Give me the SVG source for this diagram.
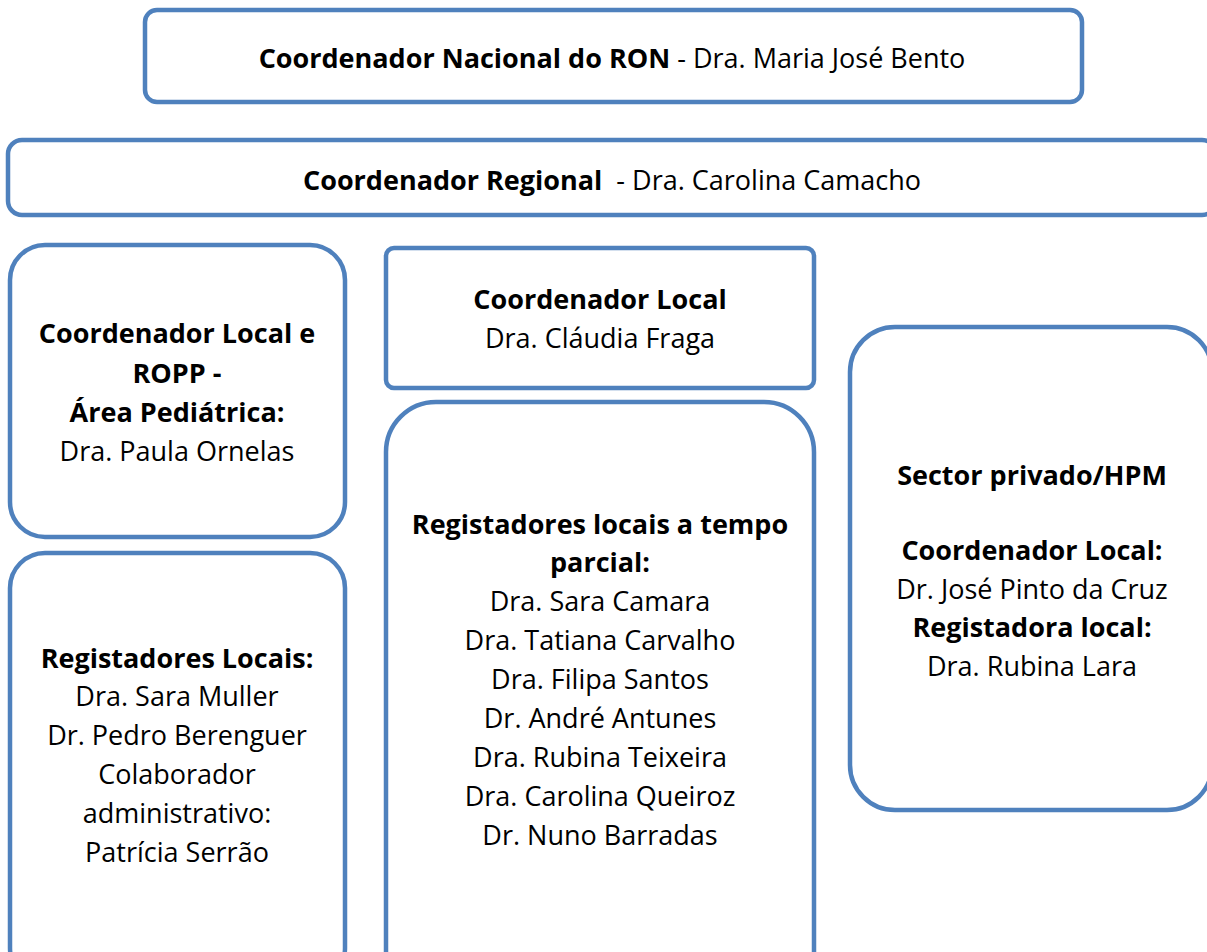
<svg xmlns="http://www.w3.org/2000/svg" width="1207" height="952" viewBox="0 0 1207 952">
<style>
.box{fill:#fff;stroke:#4f81bd;stroke-width:4.5}
text{font-family:"Open Sans","Liberation Sans",sans-serif;font-size:27px;fill:#000;text-anchor:middle}
.b{font-weight:bold}
</style>
<rect width="1207" height="952" fill="#fff"/>
<g id="national">
<rect class="box" x="145" y="10" width="937" height="92" rx="12"/>
<text x="612" y="68"><tspan class="b">Coordenador Nacional do RON</tspan> - Dra. Maria José Bento</text>
</g>
<g id="regional">
<rect class="box" x="8" y="140" width="1208" height="75" rx="14"/>
<text x="612" y="190" xml:space="preserve"><tspan class="b">Coordenador Regional</tspan>  - Dra. Carolina Camacho</text>
</g>
<g id="ropp">
<rect class="box" x="10" y="245" width="335" height="292" rx="35"/>
<text x="177" y="343" class="b">Coordenador Local e</text>
<text x="177" y="383" class="b">ROPP -</text>
<text x="177" y="422" class="b">Área Pediátrica:</text>
<text x="177" y="461">Dra. Paula Ornelas</text>
</g>
<g id="reg-locais">
<rect class="box" x="10" y="553" width="335" height="430" rx="35"/>
<text x="177" y="668" class="b">Registadores Locais:</text>
<text x="177" y="706">Dra. Sara Muller</text>
<text x="177" y="745">Dr. Pedro Berenguer</text>
<text x="177" y="784">Colaborador</text>
<text x="177" y="823">administrativo:</text>
<text x="177" y="862">Patrícia Serrão</text>
</g>
<g id="coord-local">
<rect class="box" x="386" y="248" width="428" height="140" rx="8"/>
<text x="600" y="309" class="b">Coordenador Local</text>
<text x="600" y="348">Dra. Cláudia Fraga</text>
</g>
<g id="parcial">
<rect class="box" x="386" y="402" width="428" height="600" rx="50"/>
<text x="600" y="534" class="b">Registadores locais a tempo</text>
<text x="600" y="572" class="b">parcial:</text>
<text x="600" y="611">Dra. Sara Camara</text>
<text x="600" y="650">Dra. Tatiana Carvalho</text>
<text x="600" y="689">Dra. Filipa Santos</text>
<text x="600" y="728">Dr. André Antunes</text>
<text x="600" y="767">Dra. Rubina Teixeira</text>
<text x="600" y="806">Dra. Carolina Queiroz</text>
<text x="600" y="845">Dr. Nuno Barradas</text>
</g>
<g id="privado">
<rect class="box" x="850" y="327" width="362" height="483" rx="45"/>
<text x="1032" y="485" class="b">Sector privado/HPM</text>
<text x="1032" y="560" class="b">Coordenador Local:</text>
<text x="1032" y="599">Dr. José Pinto da Cruz</text>
<text x="1032" y="637" class="b">Registadora local:</text>
<text x="1032" y="676">Dra. Rubina Lara</text>
</g>
<g id="connectors"></g>
</svg>
